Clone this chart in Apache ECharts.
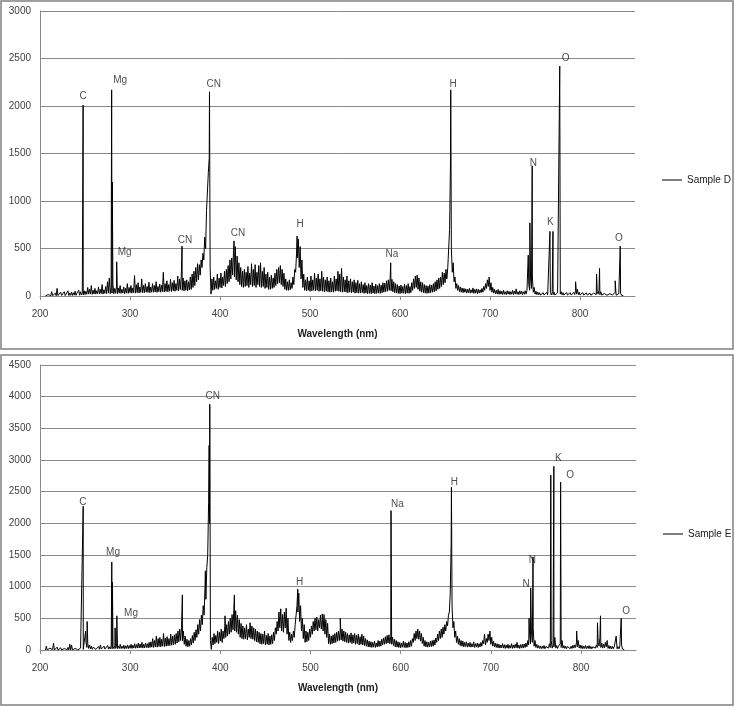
<!DOCTYPE html>
<html>
<head>
<meta charset="utf-8">
<script src="https://cdn.jsdelivr.net/npm/echarts@6/dist/echarts.min.js"></script>
<style>
  html, body { margin: 0; padding: 0; background: #fff; }
  #main { width: 735px; height: 707px; }
</style>
</head>
<body>
<div id="main"></div>
<script>
// spectra read every 1 nm from 206 nm (values alternate trough / crest of the noise band),
// the sharp emission lines are listed separately and merged in
var startNm = 206;
var stepNm = 1;

var baseD = [
    // 206
    0,8, 2,15, 0,30, 3,45, 2,12,  4,30, 3,80, 5,25, 3,40, 6,20,  5,45, 4,25, 7,55, 5,30, 8,40,
    6,35, 9,50, 7,30, 10,60, 8,45,  10,40, 12,55, 15,50, 18,90, 20,70,
    // 256
    20,110, 18,60, 22,80, 20,55, 25,95,  22,70, 25,120, 20,65, 28,100, 25,150,  30,190, 25,90, 30,120, 25,80, 28,100,
    25,85, 30,110, 28,70, 30,95, 25,80,  30,130, 28,90, 35,110, 30,85, 35,215,
    // 306
    30,120, 35,140, 32,95, 38,180, 35,110,  35,130, 40,100, 38,145, 35,95, 40,130,  40,110, 42,150, 38,100, 45,125, 40,115,
    45,250, 42,130, 48,160, 45,120, 50,175,  48,140, 55,165, 50,130, 60,210, 55,180,
    // 356
    70,220, 60,190, 55,160, 60,170, 55,150,  65,200, 70,230, 90,260, 110,300, 150,340,  170,330, 220,380, 300,450, 380,620, 500,900,
    900,1300, 1450,300, 20,180, 60,200, 70,160,  80,230, 70,190, 90,240, 85,200, 110,260,
    // 406
    100,280, 130,320, 150,380, 180,400, 220,480,  200,520, 170,420, 150,350, 120,300, 100,260,  90,280, 100,250, 110,310, 90,240, 120,340,
    100,280, 110,330, 90,250, 120,320, 100,350,  90,260, 100,300, 80,230, 90,250, 70,200,
    // 456
    70,220, 80,190, 90,240, 110,280, 130,300,  140,320, 120,280, 100,240, 70,180, 60,150,  60,170, 65,140, 80,200, 120,280, 250,450,
    400,600, 300,520, 180,380, 90,230, 60,170,  55,200, 60,160, 50,210, 55,170, 60,240,
    // 506
    55,190, 60,230, 50,180, 55,260, 50,200,  45,170, 50,200, 45,160, 40,190, 45,150,  40,210, 50,180, 55,260, 50,230, 45,290,
    40,200, 45,170, 40,210, 35,160, 40,180,  35,150, 40,170, 30,140, 35,165, 30,130,
    // 556
    30,150, 35,120, 28,140, 30,110, 25,130,  28,115, 25,140, 30,105, 25,125, 28,110,  30,130, 28,115, 35,140, 40,135, 45,160,
    50,170, 60,190, 55,175, 45,150, 35,130,  30,120, 28,105, 25,115, 30,100, 28,125,
    // 606
    25,110, 30,130, 28,100, 35,140, 60,180,  80,210, 90,220, 70,190, 50,150, 40,140,  35,120, 30,110, 28,105, 30,120, 35,115,
    40,130, 45,150, 55,170, 70,190, 80,200,  100,250, 120,240, 140,280, 180,300, 300,700,
    // 656
    1400,500, 250,350, 150,200, 80,130, 60,110,  45,95, 40,85, 35,80, 40,75, 30,70,  35,80, 30,65, 35,85, 28,70, 30,75,
    25,70, 30,65, 35,80, 40,100, 60,130,  80,170, 100,200, 60,140, 40,90, 30,70,
    // 706
    25,60, 20,70, 18,55, 20,50, 15,60,  18,45, 15,55, 20,50, 15,45, 18,60,  15,50, 20,75, 18,45, 15,55, 20,50,
    15,45, 18,55, 20,60, 40,120, 60,180,  80,200, 40,90, 20,50, 15,40, 12,35,
    // 756
    10,30, 12,35, 10,28, 12,40, 10,30,  15,40, 12,35, 15,40, 10,30, 12,35,  15,40, 20,45, 12,35, 10,30, 12,38,
    10,28, 12,35, 10,30, 12,38, 15,60,  20,70, 15,40, 10,30, 12,35, 10,28,
    // 806
    12,32, 10,28, 12,30, 8,25, 10,30,  12,35, 15,50, 20,60, 15,45, 10,30,  8,25, 10,28, 8,22, 10,25, 8,20,
    10,25, 12,40, 8,20, 10,25, 12,30,  8, 15, 3
];

var peaksD = [
    [247.9, 2010], [279.6, 2170], [280.3, 1200], [285.2, 360], [357.8, 525],
    [388.3, 2150], [415.6, 580], [485.6, 630], [589.6, 350], [655.3, 900],
    [656.3, 2170], [742.4, 430], [744.2, 770], [746.8, 1370], [766.5, 680],
    [769.9, 680], [777.4, 2420], [795.0, 150], [818.3, 230], [821.6, 290],
    [839.0, 160], [844.6, 525]
];

var baseE = [
    // 206
    0,60, 0,15, 2,30, 0,20, 3,110,  0,25, 2,45, 0,15, 3,35, 0,20,  2,25, 0,15, 3,40, 2,90, 4,80,
    2,30, 3,25, 0,15, 2,20, 3,30,  5,40, 10,35, 30,120, 40,100, 25,80,
    // 256
    15,60, 12,45, 15,70, 10,40, 15,55,  12,80, 15,45, 10,60, 15,40, 12,70,  15,50, 18,75, 20,60, 20,70, 25,80,
    20,65, 25,90, 22,60, 25,75, 20,65,  25,80, 22,70, 28,90, 25,75, 30,100,
    // 306
    28,85, 30,110, 32,95, 35,120, 30,90,  35,110, 38,100, 35,120, 40,130, 45,180,  40,150, 50,220, 45,180, 55,200, 50,170,
    60,260, 55,190, 60,210, 65,180, 70,250,  75,220, 80,240, 90,260, 110,300, 130,330,
    // 356
    150,350, 140,300, 90,220, 60,170, 50,150,  60,180, 80,230, 110,280, 150,320, 200,400,  250,480, 300,550, 400,700, 550,1000, 800,1300,
    1500,2330, 2000,150, 10,200, 80,260, 100,230,  120,300, 100,280, 140,330, 120,300, 180,380,
    // 406
    200,400, 220,450, 250,500, 280,560, 320,650,  300,620, 280,550, 250,480, 200,420, 180,380,  170,350, 180,400, 160,330, 200,430, 180,380,
    170,350, 150,330, 130,300, 120,280, 100,260,  90,250, 100,300, 80,230, 90,260, 80,220,
    // 456
    90,240, 100,280, 150,350, 250,450, 300,600,  350,650, 300,560, 280,600, 350,660, 250,500,  150,280, 120,250, 150,300, 200,400, 400,700,
    600,900, 450,700, 300,500, 180,400, 120,300,  130,280, 150,330, 200,380, 250,450, 300,500,
    // 506
    320,520, 300,480, 350,550, 330,500, 300,560,  250,480, 200,420, 100,250, 90,220, 100,240,  110,260, 120,280, 140,300, 150,320, 160,330,
    140,300, 130,280, 120,260, 110,240, 120,270,  100,240, 110,260, 90,230, 100,250, 80,210,
    // 556
    90,250, 80,220, 70,180, 60,160, 50,140,  45,130, 40,120, 45,140, 40,110, 50,150,  55,140, 60,170, 80,190, 90,210, 100,230,
    110,240, 100,210, 90,200, 70,170, 50,150,  45,130, 40,120, 35,110, 45,140, 40,120,
    // 606
    35,110, 40,130, 45,150, 60,180, 120,260,  150,300, 180,330, 170,300, 140,260, 100,200,  60,150, 50,130, 45,120, 50,140, 55,150,
    60,160, 80,190, 120,250, 150,300, 180,330,  200,360, 250,400, 300,450, 380,550, 600,900,
    // 656
    1700,700, 350,450, 200,300, 120,220, 90,180,  70,150, 60,140, 50,120, 55,130, 45,110,  50,120, 45,100, 50,130, 40,100, 45,110,
    40,100, 50,120, 60,150, 100,250, 80,180,  120,250, 150,300, 90,200, 60,140, 50,110,
    // 706
    40,100, 35,90, 30,80, 35,100, 30,85,  25,80, 30,90, 25,75, 30,100, 25,80,  30,90, 35,120, 30,80, 25,85, 30,90,
    30,95, 40,110, 50,150, 80,250, 100,300,  120,350, 60,150, 40,90, 30,70, 25,65,
    // 756
    20,60, 25,70, 20,55, 25,70, 30,100,  40,150, 30,80, 50,200, 30,70, 25,60,  30,100, 40,150, 30,70, 25,60, 20,55,
    25,70, 20,60, 25,75, 30,80, 40,120,  50,150, 30,80, 25,70, 20,60, 25,70,
    // 806
    20,60, 25,70, 20,55, 18,50, 25,65,  30,80, 40,120, 60,200, 40,110, 30,90,  35,120, 50,150, 25,70, 20,60, 18,55,
    20,60, 30,90, 20,55, 18,50, 25,80,  15, 30, 5
];

var peaksE = [
    [247.9, 2270], [250.6, 300], [252.3, 450], [279.6, 1390], [280.3, 1070],
    [283.3, 350], [285.2, 540], [357.9, 870], [383.4, 1250], [387.6, 3230],
    [388.3, 3880], [405.2, 540], [415.6, 870], [485.9, 960], [513.0, 570],
    [533.0, 500], [589.3, 2200], [656.3, 2570], [742.4, 500], [744.2, 980],
    [746.8, 1470], [766.5, 2760], [769.9, 2900], [777.4, 2650], [795.2, 300],
    [818.3, 430], [821.6, 540], [839.0, 220], [844.6, 500]
];

// element labels: [text, wavelength, height]
var labelsD = [
    ['C', 247.8, 2105], ['Mg', 289, 2270], ['Mg', 294, 463], ['CN', 361, 590],
    ['CN', 393, 2230], ['CN', 420, 663], ['H', 489, 760], ['Na', 591, 440],
    ['H', 659, 2230], ['N', 748, 1400], ['K', 767, 780], ['O', 784, 2505], ['O', 843, 610]
];
var labelsE = [
    ['C', 247.6, 2337], ['Mg', 281, 1547], ['Mg', 301, 584], ['CN', 391.6, 4010],
    ['H', 488, 1074], ['Na', 596.5, 2305], ['H', 659.6, 2653], ['N', 739, 1042],
    ['N', 746, 1421], ['K', 774.8, 3032], ['O', 788, 2763], ['O', 850, 616]
];

var xTicks = [200, 300, 400, 500, 600, 700, 800];

function buildSeries(base, peaks) {
    var pts = base.map(function (v, i) { return [startNm + i * stepNm, v]; });
    return pts.concat(peaks).sort(function (a, b) { return a[0] - b[0]; });
}

function toLabelData(list) {
    return list.map(function (l) { return { name: l[0], value: [l[1], l[2]] }; });
}

var gridColor = '#8a8a8a';
var textColor = '#404040';
var fontFam = 'Liberation Sans, Arial, sans-serif';

function xAxisFor(idx) {
    return {
        type: 'value', gridIndex: idx, min: 200, max: 861, interval: 100,
        name: 'Wavelength (nm)', nameLocation: 'middle', nameGap: 33,
        nameTextStyle: { fontWeight: 'bold', fontSize: 10, color: '#202020', fontFamily: fontFam },
        axisLine: { show: true, lineStyle: { color: gridColor, width: 1 } },
        axisTick: { show: true, length: 4, lineStyle: { color: gridColor } },
        axisLabel: {
            fontSize: 10, color: textColor, fontFamily: fontFam, margin: 13,
            showMaxLabel: false,
            formatter: function (v) { return xTicks.indexOf(v) >= 0 ? String(v) : ''; }
        },
        splitLine: { show: false }
    };
}

function yAxisFor(idx, max) {
    return {
        type: 'value', gridIndex: idx, min: 0, max: max, interval: 500,
        axisLine: { show: true, lineStyle: { color: gridColor, width: 1 } },
        axisTick: { show: false },
        axisLabel: {
            fontSize: 10, color: textColor, fontFamily: fontFam, margin: 9,
            formatter: function (v) { return String(v); }
        },
        splitLine: { show: true, lineStyle: { color: gridColor, width: 1 } }
    };
}

function labelSeries(idx, list) {
    return {
        type: 'scatter', xAxisIndex: idx, yAxisIndex: idx,
        symbolSize: 1, itemStyle: { color: 'rgba(0,0,0,0)' },
        label: {
            show: true, position: 'inside', formatter: '{b}',
            fontSize: 10, color: '#202020', fontFamily: fontFam
        },
        silent: true,
        data: toLabelData(list)
    };
}

var myChart = echarts.init(document.getElementById('main'));

var option = {
    animation: false,
    backgroundColor: '#fff',
    graphic: [
        { type: 'rect', shape: { x: 1, y: 1, width: 732, height: 348 },
          style: { fill: 'none', stroke: '#808080', lineWidth: 1.5 }, silent: true },
        { type: 'rect', shape: { x: 1, y: 355, width: 732, height: 350 },
          style: { fill: 'none', stroke: '#808080', lineWidth: 1.5 }, silent: true }
    ],
    legend: [
        { data: ['Sample D'], left: 657, top: 170, icon: 'rect', itemWidth: 20, itemHeight: 1,
          itemGap: 4, textStyle: { fontSize: 10, color: '#202020', fontFamily: fontFam } },
        { data: ['Sample E'], left: 658, top: 524, icon: 'rect', itemWidth: 20, itemHeight: 1,
          itemGap: 4, textStyle: { fontSize: 10, color: '#202020', fontFamily: fontFam } }
    ],
    grid: [
        { left: 40, top: 11, width: 595, height: 285 },
        { left: 40, top: 365, width: 596, height: 285 }
    ],
    xAxis: [xAxisFor(0), xAxisFor(1)],
    yAxis: [yAxisFor(0, 3000), yAxisFor(1, 4500)],
    series: [
        {
            name: 'Sample D', type: 'line', xAxisIndex: 0, yAxisIndex: 0,
            showSymbol: false, symbol: 'none', sampling: null,
            lineStyle: { color: '#000', width: 1 }, itemStyle: { color: '#000' },
            data: buildSeries(baseD, peaksD)
        },
        {
            name: 'Sample E', type: 'line', xAxisIndex: 1, yAxisIndex: 1,
            showSymbol: false, symbol: 'none', sampling: null,
            lineStyle: { color: '#000', width: 1 }, itemStyle: { color: '#000' },
            data: buildSeries(baseE, peaksE)
        },
        labelSeries(0, labelsD),
        labelSeries(1, labelsE)
    ]
};
myChart.setOption(option);
</script>
</body>
</html>
